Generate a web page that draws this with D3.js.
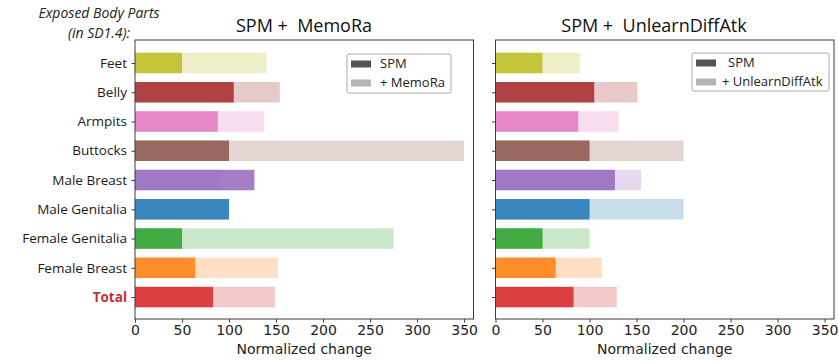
<!DOCTYPE html>
<html>
<head>
<meta charset="utf-8">
<script src="https://cdn.jsdelivr.net/npm/d3@7"></script>
<style>
body{margin:0;background:#fff;}
svg{display:block;}
</style>
</head>
<body>
<div id="chart"></div>
<script>
var categories = ["Feet","Belly","Armpits","Buttocks","Male Breast","Male Genitalia","Female Genitalia","Female Breast","Total"];
var barColors = ["#bcbd22","#a52a2a","#e377c2","#8c564b","#9467bd","#1f77b4","#2ca02c","#ff7f0e","#d62728"];
var spmValues = [50,105,88,100,127,100,50,64,83];
var memoraValues = [140,154,137,350,91,100,275,152,149];
var unlearnValues = [90,151,131,200,155,200,100,113,129];
var xTicks = [0,50,100,150,200,250,300,350];

var W = 839, H = 362;
var plotTop = 40, plotBottom = 319;//window.top is taken, so not "top"

var svg = d3.select('#chart').append('svg')
  .attr('width', W).attr('height', H);

// rows: index 0 at the top
var y = d3.scaleLinear().domain([-0.786, 8.75]).range([plotTop, plotBottom]);
var barH = (y(0.7) - y(0));

function panel(x0, x1, attackVals, title, titleX, legendLabel, lg, showLabels){
  var x = d3.scaleLinear().domain([0,360]).range([x0, x1]);
  var g = svg.append('g');

  // light (attack) bars first, then the SPM bars over them
  g.selectAll('rect.light').data(attackVals).enter().append('rect')
    .attr('class','light')
    .attr('x', x(0))
    .attr('y', function(d,i){return y(i) - barH/2;})
    .attr('width', function(d){return x(d) - x(0);})
    .attr('height', barH)
    .attr('fill', function(d,i){return barColors[i];})
    .attr('fill-opacity', 0.25);

  g.selectAll('rect.dark').data(spmValues).enter().append('rect')
    .attr('class','dark')
    .attr('x', x(0))
    .attr('y', function(d,i){return y(i) - barH/2;})
    .attr('width', function(d){return x(d) - x(0);})
    .attr('height', barH)
    .attr('fill', function(d,i){return barColors[i];})
    .attr('fill-opacity', 0.85);

  // frame
  g.append('rect')
    .attr('x', x0).attr('y', plotTop)
    .attr('width', x1 - x0).attr('height', plotBottom - plotTop)
    .attr('fill','none').attr('stroke','#3a3a3a').attr('stroke-width',1);

  // x axis
  var xa = g.append('g')
    .attr('transform','translate(0,'+plotBottom+')')
    .call(d3.axisBottom(x).tickValues(xTicks).tickSize(3.5).tickPadding(3));
  xa.select('.domain').remove();
  xa.selectAll('line').attr('stroke','#3a3a3a');
  xa.selectAll('text')
    .attr('font-family','DejaVu Sans, sans-serif')
    .attr('font-size','14px')
    .attr('fill','#222');

  // y ticks
  var ya = g.append('g')
    .attr('transform','translate('+x0+',0)')
    .call(d3.axisLeft(y).tickValues(d3.range(categories.length)).tickSize(3.5).tickFormat(''));
  ya.select('.domain').remove();
  ya.selectAll('line').attr('stroke','#3a3a3a');

  if (showLabels) {
    g.selectAll('text.cat').data(categories).enter().append('text')
      .attr('class','cat')
      .attr('x', x0 - 8)
      .attr('y', function(d,i){return y(i);})
      .attr('dy','0.35em')
      .attr('text-anchor','end')
      .attr('font-family','Open Sans, sans-serif')
      .attr('font-size','13.5px')
      .attr('font-weight', function(d){return d=='Total' ? 'bold' : 'normal';})
      .attr('fill', function(d){return d=='Total' ? '#c62f2f' : '#1a1a1a';})
      .text(function(d){return d;});
  }

  // x label
  g.append('text')
    .attr('x', (x0 + x1)/2).attr('y', 354)
    .attr('text-anchor','middle')
    .attr('font-family','DejaVu Sans, sans-serif')
    .attr('font-size','14px')
    .attr('fill','#222')
    .text('Normalized change');

  // title
  g.append('text')
    .attr('x', titleX).attr('y', 32)
    .attr('text-anchor','middle')
    .attr('font-family','Open Sans, sans-serif')
    .attr('font-size','18px')
    .attr('fill','#111')
    .style('white-space','pre')
    .text(title);

  // legend
  var leg = g.append('g');
  leg.append('rect')
    .attr('x', lg.x).attr('y', lg.y).attr('width', lg.w).attr('height', lg.h)
    .attr('rx', 2)
    .attr('fill','#fff').attr('stroke','#a0a0a0').attr('stroke-width',0.9);
  var items = [{c:'#555555', t:'SPM', dx:lg.spmDx}, {c:'#b5b5b5', t:legendLabel, dx:0}];
  items.forEach(function(it, k){
    leg.append('rect')
      .attr('x', lg.x + 4).attr('y', lg.y + 6.5 + k*19)
      .attr('width', 20).attr('height', 7)
      .attr('fill', it.c);
    leg.append('text')
      .attr('x', lg.tx + it.dx).attr('y', lg.y + 14 + k*19)
      .attr('font-family','Open Sans, sans-serif')
      .attr('font-size','13px')
      .attr('fill','#222')
      .text(it.t);
  });
}

panel(135, 473.5, memoraValues, 'SPM +  MemoRa', 304, '+ MemoRa',
  {x:347, y:54, w:104, h:39, tx:380, spmDx:0}, true);
panel(495.5, 834, unlearnValues, 'SPM +  UnlearnDiffAtk', 654, '+ UnlearnDiffAtk',
  {x:692, y:53, w:137, h:38, tx:722, spmDx:6}, false);

// top-left caption
var cap = svg.append('text')
  .attr('text-anchor','middle')
  .attr('font-family','Open Sans, sans-serif')
  .attr('font-style','italic')
  .attr('font-size','14px')
  .attr('fill','#222');
cap.append('tspan').attr('x', 99).attr('y', 18).text('Exposed Body Parts');
cap.append('tspan').attr('x', 99).attr('y', 38).text('(in SD1.4):');
</script>
</body>
</html>
